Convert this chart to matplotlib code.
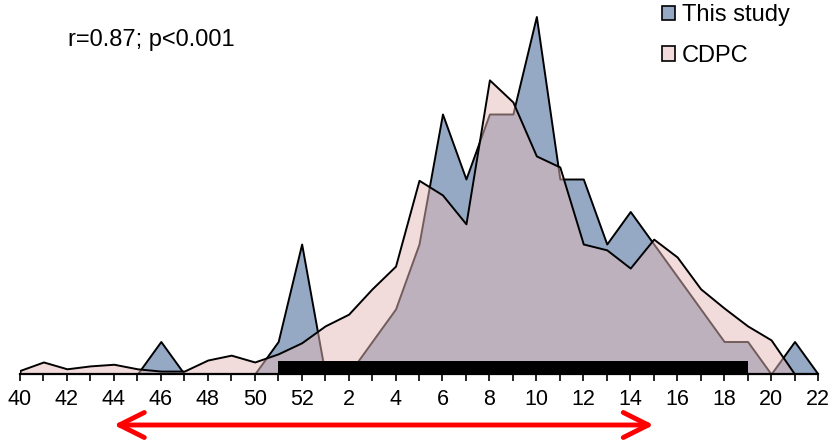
import numpy as np
import matplotlib.pyplot as plt
import matplotlib.transforms as mtransforms
from matplotlib.patches import Patch

plt.rcParams['font.family'] = ['Liberation Sans', 'DejaVu Sans']

# epidemiological weeks: 40..52 then 1..22
weeks = [str(w) for w in range(40, 53)] + [str(w) for w in range(1, 23)]

# This study (case counts per week)
this_study = [0, 0, 0, 0, 0, 0, 1, 0, 0, 0, 0, 1, 4,
              0, 0, 1, 2, 4, 8, 6, 8, 8, 11, 6, 6, 4, 5, 4, 3, 2, 1, 1, 0, 1, 0]

# CDPC (scaled to the same axis)
cdpc = [0.11, 0.37, 0.16, 0.25, 0.30, 0.16, 0.09, 0.09, 0.43, 0.58, 0.37, 0.62, 0.96,
        1.48, 1.84, 2.62, 3.32, 5.96, 5.51, 4.62, 9.05, 8.37, 6.71, 6.37, 4.00, 3.82,
        3.26, 4.15, 3.60, 2.62, 2.03, 1.48, 1.05, 0.0, 0.0]

season_start, season_end = "51", "19"
arrow_start, arrow_end = "44", "15"
stat_text = "r=0.87; p<0.001"

x = np.arange(len(weeks))
idx = {w: i for i, w in enumerate(weeks)}

fig = plt.figure(figsize=(8.37, 4.4), dpi=100)
ax = fig.add_axes([20 / 837, 1 - 374 / 440, 798 / 837, 364 / 440])

blue = '#95A9C5'
pink = (230 / 255, 185 / 255, 184 / 255, 0.5)

ax.fill_between(x, 0, this_study, facecolor=blue, edgecolor='black', linewidth=1.4, zorder=2)
ax.fill_between(x, 0, cdpc, facecolor=pink, edgecolor='black', linewidth=1.4, zorder=3)

# season bar
ax.broken_barh([(idx[season_start], idx[season_end] - idx[season_start])], (0, 0.41),
               facecolor='black', zorder=5)

ax.set_xlim(0, len(weeks) - 1)
ax.set_ylim(0, 364 / 32.5)
ax.set_xticks(x)
ax.set_xticklabels([w if int(w) % 2 == 0 else '' for w in weeks], fontsize=15.5)
ax.tick_params(axis='x', length=5, width=1.2, pad=6, color='black')
ax.set_yticks([])
for s in ['left', 'right', 'top']:
    ax.spines[s].set_visible(False)
ax.spines['bottom'].set_linewidth(1.6)
ax.spines['bottom'].set_zorder(6)

fig.text(68 / 837, 1 - 40 / 440, stat_text, fontsize=17, va='center', ha='left')

handles = [Patch(facecolor=blue, edgecolor='black', linewidth=1.2),
           Patch(facecolor=(0.95, 0.86, 0.86), edgecolor='black', linewidth=1.2)]
fig.legend(handles, ['This study', 'CDPC'], loc='upper left',
           bbox_to_anchor=(662 / 837, 1 - 4 / 440), bbox_transform=fig.transFigure,
           fontsize=17, frameon=False, handlelength=0.55, handleheight=0.55,
           handletextpad=0.3, labelspacing=0.8, borderaxespad=0.0, borderpad=0.0)

trans = mtransforms.blended_transform_factory(ax.transData, fig.transFigure)
ax.annotate('', xy=(idx[arrow_end], 1 - 425 / 440), xytext=(idx[arrow_start], 1 - 425 / 440),
            xycoords=trans, textcoords=trans, annotation_clip=False,
            arrowprops=dict(arrowstyle='<->,head_length=0.9,head_width=0.45',
                            color='#FF0000', lw=3.5, mutation_scale=20,
                            shrinkA=0, shrinkB=0))

plt.savefig('out.png', dpi=100)
